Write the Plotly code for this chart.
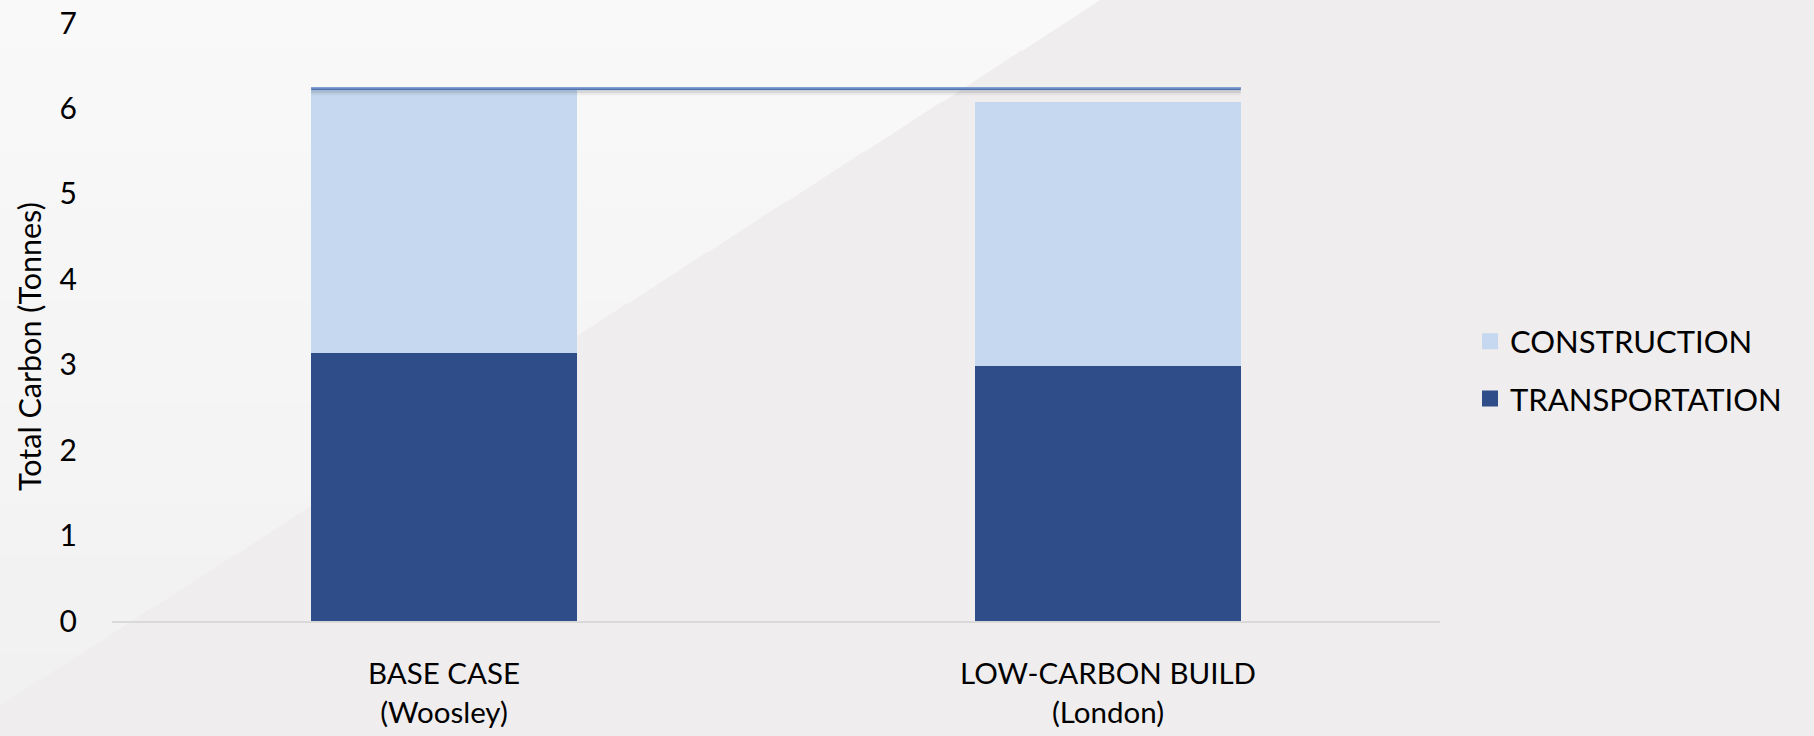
import plotly.graph_objects as go

categories = ["BASE CASE<br>(Woosley)", "LOW-CARBON BUILD<br>(London)"]
transportation = [3.14, 2.985]
construction = [3.09, 3.09]
y_ticks = [0, 1, 2, 3, 4, 5, 6, 7]
series_names = ["TRANSPORTATION", "CONSTRUCTION"]
series_colors = ["#2F4E89", "#C5D8EF"]

W, H = 1814, 736
L, R, T, B = 112, 374, 23, 115
PW, PH = W - L - R, H - T - B

def px(x, y):
    return (x - L) / PW, (H - B - y) / PH

FONT = "Lato, Calibri, Carlito, sans-serif"
BAR_W = 0.4

fig = go.Figure()
for name, vals, col in zip(series_names, [transportation, construction], series_colors):
    fig.add_bar(name=name, x=categories, y=vals, showlegend=False,
                marker=dict(color=col, line=dict(width=0)), width=BAR_W)
# legend entries (larger square swatches)
for name, col in reversed(list(zip(series_names, series_colors))):
    fig.add_scatter(name=name, x=[None], y=[None], mode="markers",
                    marker=dict(symbol="square", size=19, color=col, line=dict(width=0)),
                    legendgroup=name, showlegend=True)

shapes = []
# background light triangle with vertical gradient
x_top, y_left = 1100.0, 705.0
n = 14
c0 = (249, 249, 249)
c1 = (242, 241, 241)
for i in range(n):
    ya, yb = y_left * i / n, y_left * (i + 1) / n
    xa = x_top * (1 - ya / y_left)
    xb = x_top * (1 - yb / y_left)
    t = (i + 0.5) / n
    col = tuple(round(c0[k] + (c1[k] - c0[k]) * t) for k in range(3))
    pts = [px(0, ya - 0.5), px(xa + 1, ya - 0.5), px(xb + 1, yb + 0.5), px(0, yb + 0.5)]
    path = "M " + " L ".join(f"{a},{b}" for a, b in pts) + " Z"
    shapes.append(dict(type="path", path=path, xref="paper", yref="paper",
                       fillcolor="rgb(%d,%d,%d)" % col, line=dict(width=0), layer="below"))

total_base = transportation[0] + construction[0]
x0 = 0 - BAR_W / 2
x1 = (len(categories) - 1) + BAR_W / 2
for off, w, c in [(-4.5, 4, "rgba(0,0,0,0.05)"), (-3, 2.5, "rgba(0,0,0,0.09)"),
                  (0, 3, "#4F74AE"), (1, 1.2, "#87A5D3")]:
    shapes.append(dict(type="line", xref="x", yref="y", x0=x0, x1=x1,
                       ysizemode="pixel", yanchor=total_base, y0=off, y1=off,
                       line=dict(color=c, width=w), layer="above"))

tx, ty = px(29, 347)
fig.add_annotation(text="Total Carbon (Tonnes)", xref="paper", yref="paper",
                   x=tx, y=ty, xanchor="center", yanchor="middle",
                   textangle=-90, showarrow=False,
                   font=dict(size=30.5, family=FONT, color="#000000"))

fig.update_layout(
    width=W, height=H,
    margin=dict(l=L, r=R, t=T, b=B, autoexpand=False),
    paper_bgcolor="#EFEDED", plot_bgcolor="rgba(0,0,0,0)",
    barmode="stack", bargap=1 - BAR_W,
    font=dict(family=FONT, size=30, color="#000000"),
    shapes=shapes,
    showlegend=True,
    legend=dict(x=px(1470, 0)[0], y=px(0, 370)[1], xanchor="left", yanchor="middle",
                bgcolor="rgba(0,0,0,0)", font=dict(size=31, family=FONT),
                traceorder="grouped", tracegroupgap=14, itemsizing="trace"),
    xaxis=dict(showgrid=False, showline=True, linecolor="#D9D9D9", linewidth=2,
               ticks="outside", ticklen=26, tickcolor="rgba(0,0,0,0)",
               tickfont=dict(size=29.5), zeroline=False, automargin=False),
    yaxis=dict(range=[0, 7], tickvals=y_ticks, showgrid=False, showline=False,
               zeroline=False, ticks="outside", ticklen=28, tickcolor="rgba(0,0,0,0)",
               tickfont=dict(size=30), automargin=False),
)

fig.write_html("out.html")
